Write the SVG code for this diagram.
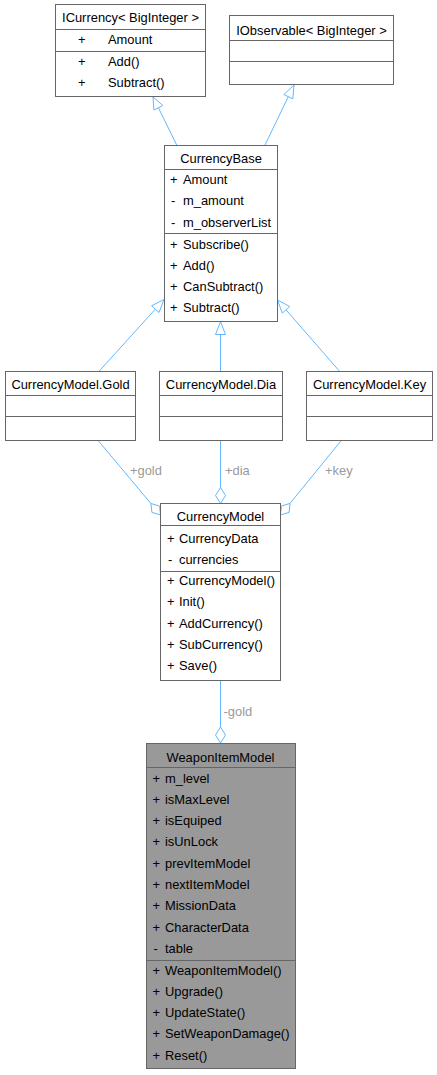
<svg xmlns="http://www.w3.org/2000/svg" width="437" height="1075" viewBox="0 0 437 1075">
<style>
text{font-family:"Liberation Sans",Arial,sans-serif;font-size:12.9px;fill:#000}
.t{text-anchor:middle}
.box{fill:#fff;stroke:#666;stroke-width:1}
.hl{fill:#999;stroke:#666;stroke-width:1}
.div{stroke:#666;stroke-width:1;fill:none}
.e{stroke:#63b8ff;stroke-width:1;fill:none}
.ah{stroke:#63b8ff;stroke-width:1;fill:#fff}
.lbl{fill:#9a9a9a}
</style>
<rect width="437" height="1075" fill="#fff"/>
<g id="connectors">
<line class="e" x1="176.7" y1="145" x2="158.4" y2="107.7"/>
<polygon class="ah" points="153,97 162.9,105.5 153.9,110"/>
<line class="e" x1="265" y1="145" x2="288.3" y2="96.7"/>
<polygon class="ah" points="294,85 292.8,98.9 283.8,94.5"/>
<line class="e" x1="99.3" y1="371" x2="155.3" y2="309.2"/>
<polygon class="ah" points="164,299.5 159,312.5 151.6,305.8"/>
<line class="e" x1="220.5" y1="371" x2="220.5" y2="334.5"/>
<polygon class="ah" points="220.5,321.5 225.5,334.5 215.5,334.5"/>
<line class="e" x1="339.3" y1="371" x2="286" y2="309.8"/>
<polygon class="ah" points="277.5,300 289.8,306.5 282.3,313.1"/>
<line class="e" x1="97.7" y1="440" x2="150.9" y2="503.5"/>
<polygon class="ah" points="160.5,515 151.9,512.4 150.9,503.5 159.5,506"/>
<text class="lbl" x="130" y="475">+gold</text>
<line class="e" x1="220.5" y1="440" x2="220.5" y2="487.5"/>
<polygon class="ah" points="220.5,503.5 215.5,495.5 220.5,487.5 225.5,495.5"/>
<text class="lbl" x="225" y="475">+dia</text>
<line class="e" x1="341.7" y1="440" x2="290" y2="503.4"/>
<polygon class="ah" points="280.5,515 281.4,506 290,503.4 289.1,512.4"/>
<text class="lbl" x="325" y="475">+key</text>
<line class="e" x1="220.5" y1="680.5" x2="220.5" y2="727"/>
<polygon class="ah" points="220.5,743 215.5,735 220.5,727 225.5,735"/>
<text class="lbl" x="223.5" y="716">-gold</text>
</g>
<g id="ICurrency">
<rect class="box" x="55.5" y="4.5" width="150" height="92"/>
<path class="div" d="M55.5 29.5H205.5M55.5 51.5H205.5"/>
<text class="t" x="130.5" y="22">ICurrency&lt; BigInteger &gt;</text>
<text x="78" y="44">+</text><text x="108" y="44">Amount</text>
<text x="78" y="65.5">+</text><text x="108" y="65.5">Add()</text>
<text x="78" y="86.5">+</text><text x="108" y="86.5">Subtract()</text>
</g>
<g id="IObservable">
<rect class="box" x="229.5" y="15.5" width="164" height="69"/>
<path class="div" d="M229.5 40.5H393.5M229.5 61.5H393.5"/>
<text class="t" x="311.5" y="34.5">IObservable&lt; BigInteger &gt;</text>
</g>
<g id="CurrencyBase">
<rect class="box" x="164.5" y="145.5" width="113" height="176"/>
<path class="div" d="M164.5 169.5H277.5M164.5 233.5H277.5"/>
<text class="t" x="221" y="162.5">CurrencyBase</text>
<text x="170" y="184">+</text><text x="183" y="184">Amount</text>
<text x="171" y="205.3">-</text><text x="183" y="205.3">m_amount</text>
<text x="171" y="226.7">-</text><text x="183" y="226.7">m_observerList</text>
<text x="170" y="248.5">+</text><text x="183" y="248.5">Subscribe()</text>
<text x="170" y="269.8">+</text><text x="183" y="269.8">Add()</text>
<text x="170" y="291.1">+</text><text x="183" y="291.1">CanSubtract()</text>
<text x="170" y="312.4">+</text><text x="183" y="312.4">Subtract()</text>
</g>
<g id="CurrencyModel.Gold">
<rect class="box" x="5.5" y="371.5" width="130" height="69"/>
<path class="div" d="M5.5 395.5H135.5M5.5 416.5H135.5"/>
<text class="t" x="70.5" y="388.5">CurrencyModel.Gold</text>
</g>
<g id="CurrencyModel.Dia">
<rect class="box" x="159.5" y="371.5" width="123" height="69"/>
<path class="div" d="M159.5 395.5H282.5M159.5 416.5H282.5"/>
<text class="t" x="221" y="388.5">CurrencyModel.Dia</text>
</g>
<g id="CurrencyModel.Key">
<rect class="box" x="306.5" y="371.5" width="126" height="69"/>
<path class="div" d="M306.5 395.5H432.5M306.5 416.5H432.5"/>
<text class="t" x="369.5" y="388.5">CurrencyModel.Key</text>
</g>
<g id="CurrencyModel">
<rect class="box" x="160.5" y="503.5" width="120" height="177"/>
<path class="div" d="M160.5 525.5H280.5M160.5 571.5H280.5"/>
<text class="t" x="220.5" y="520.5">CurrencyModel</text>
<text x="167" y="542.5">+</text><text x="179" y="542.5">CurrencyData</text>
<text x="168" y="563.8">-</text><text x="179" y="563.8">currencies</text>
<text x="167" y="585">+</text><text x="179" y="585">CurrencyModel()</text>
<text x="167" y="606.3">+</text><text x="179" y="606.3">Init()</text>
<text x="167" y="627.6">+</text><text x="179" y="627.6">AddCurrency()</text>
<text x="167" y="648.9">+</text><text x="179" y="648.9">SubCurrency()</text>
<text x="167" y="670">+</text><text x="179" y="670">Save()</text>
</g>
<g id="WeaponItemModel">
<rect class="hl" x="146.5" y="743.5" width="149" height="325"/>
<path class="div" d="M146.5 767.5H295.5M146.5 960.5H295.5"/>
<text class="t" x="220.5" y="761.5">WeaponItemModel</text>
<text x="152.5" y="782.5">+</text><text x="165" y="782.5">m_level</text>
<text x="152.5" y="803.8">+</text><text x="165" y="803.8">isMaxLevel</text>
<text x="152.5" y="825.1">+</text><text x="165" y="825.1">isEquiped</text>
<text x="152.5" y="846.4">+</text><text x="165" y="846.4">isUnLock</text>
<text x="152.5" y="867.7">+</text><text x="165" y="867.7">prevItemModel</text>
<text x="152.5" y="889">+</text><text x="165" y="889">nextItemModel</text>
<text x="152.5" y="910.4">+</text><text x="165" y="910.4">MissionData</text>
<text x="152.5" y="931.7">+</text><text x="165" y="931.7">CharacterData</text>
<text x="153.5" y="953">-</text><text x="165" y="953">table</text>
<text x="152.5" y="974.5">+</text><text x="165" y="974.5">WeaponItemModel()</text>
<text x="152.5" y="995.8">+</text><text x="165" y="995.8">Upgrade()</text>
<text x="152.5" y="1017.1">+</text><text x="165" y="1017.1">UpdateState()</text>
<text x="152.5" y="1038.4">+</text><text x="165" y="1038.4">SetWeaponDamage()</text>
<text x="152.5" y="1059.7">+</text><text x="165" y="1059.7">Reset()</text>
</g>
</svg>
